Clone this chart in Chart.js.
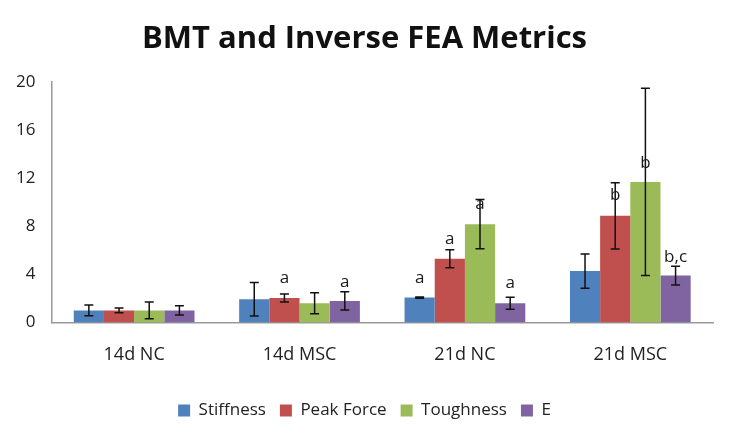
<!DOCTYPE html>
<html>
<head>
<meta charset="utf-8">
<script src="https://cdn.jsdelivr.net/npm/chart.js@4"></script>
<style>
html,body{margin:0;padding:0;background:#fff;}
#wrap{width:729px;height:437px;}
</style>
</head>
<body>
<div id="wrap"><canvas id="c" width="729" height="437"></canvas></div>
<script>
const categories = ["14d NC", "14d MSC", "21d NC", "21d MSC"];
const seriesNames = ["Stiffness", "Peak Force", "Toughness", "E"];
const stiffness = [1.0, 1.93, 2.07, 4.27];
const peakForce = [1.0, 2.03, 5.29, 8.87];
const toughness = [1.0, 1.6, 8.18, 11.7];
const modulusE = [1.0, 1.79, 1.6, 3.9];
const stiffnessErr = [0.45, 1.4, 0.05, 1.43];
const peakForceErr = [0.2, 0.33, 0.75, 2.75];
const toughnessErr = [0.7, 0.87, 2.05, 7.8];
const modulusEErr = [0.38, 0.76, 0.5, 0.78];
const stiffnessSig = ["", "", "a", ""];
const peakForceSig = ["", "a", "a", "b"];
const toughnessSig = ["", "", "a", "b"];
const modulusESig = ["", "a", "a", "b,c"];
const stiffnessSigAt = [0, 0, 3.66, 0];
const peakForceSigAt = [0, 3.66, 6.97, 10.6];
const toughnessSigAt = [0, 0, 9.86, 13.3];
const modulusESigAt = [0, 3.33, 3.25, 5.4];
const yTicks = [0, 4, 8, 12, 16, 20];
const colors = ["#4F81BD", "#C0504D", "#9BBB59", "#8064A2"];

const values = [stiffness, peakForce, toughness, modulusE];
const errs = [stiffnessErr, peakForceErr, toughnessErr, modulusEErr];
const sigs = [stiffnessSig, peakForceSig, toughnessSig, modulusESig];
const sigAt = [stiffnessSigAt, peakForceSigAt, toughnessSigAt, modulusESigAt];

const FONT = "'Open Sans', 'Noto Sans', sans-serif";

const errorBarPlugin = {
  id: 'errbars',
  afterDatasetsDraw(chart) {
    const ctx = chart.ctx;
    const y = chart.scales.y;
    ctx.save();
    chart.data.datasets.forEach((ds, di) => {
      const meta = chart.getDatasetMeta(di);
      meta.data.forEach((bar, i) => {
        const v = ds.data[i], e = ds.errors[i];
        const yt = y.getPixelForValue(v + e);
        const yb = y.getPixelForValue(Math.max(0, v - e));
        ctx.strokeStyle = '#111';
        ctx.lineWidth = 1.5;
        ctx.beginPath();
        ctx.moveTo(bar.x, yt); ctx.lineTo(bar.x, yb);
        ctx.moveTo(bar.x - 4.5, yt); ctx.lineTo(bar.x + 4.5, yt);
        ctx.moveTo(bar.x - 4.5, yb); ctx.lineTo(bar.x + 4.5, yb);
        ctx.stroke();
        const s = ds.sig[i];
        if (s) {
          ctx.fillStyle = '#1a1a1a';
          ctx.font = "17px " + FONT;
          ctx.textAlign = 'center';
          ctx.textBaseline = 'middle';
          ctx.fillText(s, bar.x, y.getPixelForValue(ds.sigAt[i]));
        }
      });
    });
    ctx.restore();
  }
};

new Chart(document.getElementById('c'), {
  type: 'bar',
  data: {
    labels: categories,
    datasets: seriesNames.map((n, k) => ({
      label: n,
      data: values[k],
      errors: errs[k],
      sig: sigs[k],
      sigAt: sigAt[k],
      backgroundColor: colors[k],
      borderWidth: 0,
      categoryPercentage: 0.73,
      barPercentage: 1.0
    }))
  },
  options: {
    responsive: false,
    animation: false,
    devicePixelRatio: 1,
    layout: { padding: { left: 0, right: 0, top: 0, bottom: 8 } },
    plugins: {
      title: {
        display: true,
        text: 'BMT and Inverse FEA Metrics',
        font: { family: FONT, size: 31, weight: 'bold' },
        color: '#111',
        padding: { top: 21, bottom: 24 }
      },
      legend: {
        position: 'bottom',
        labels: {
          boxWidth: 12, boxHeight: 12,
          font: { family: FONT, size: 17 },
          color: '#222',
          padding: 14
        }
      },
      tooltip: { enabled: false }
    },
    scales: {
      x: {
        grid: { display: false, drawTicks: false },
        border: { color: '#999', width: 1.5 },
        ticks: { font: { family: FONT, size: 18 }, color: '#222', padding: 22 }
      },
      y: {
        min: 0, max: 20,
        afterBuildTicks: (s) => { s.ticks = yTicks.map(v => ({ value: v })); },
        grid: { display: false, drawTicks: false },
        border: { color: '#999', width: 1.5 },
        ticks: { font: { family: FONT, size: 17 }, color: '#222', padding: 16 }
      },
      yr: {
        position: 'right',
        display: true,
        grid: { display: false, drawTicks: false },
        border: { display: false },
        ticks: { display: false },
        afterFit: (s) => { s.width = 16; }
      }
    }
  },
  plugins: [errorBarPlugin]
});
</script>
</body>
</html>
